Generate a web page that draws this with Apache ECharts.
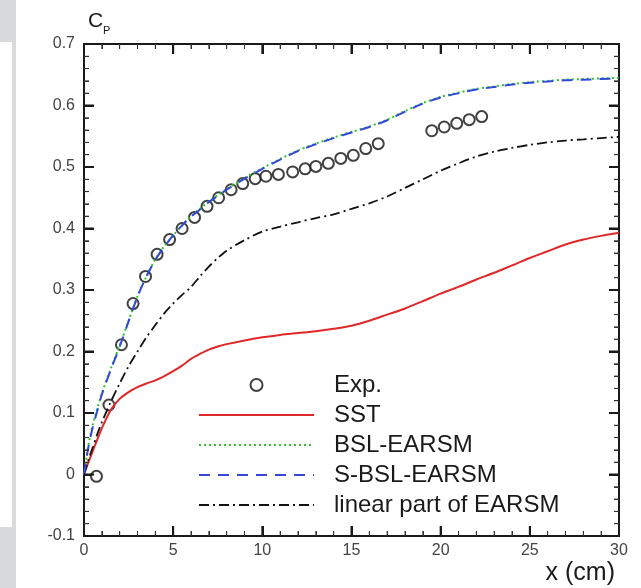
<!DOCTYPE html>
<html>
<head>
<meta charset="utf-8">
<script src="https://cdn.jsdelivr.net/npm/echarts@6/dist/echarts.min.js"></script>
<style>
html,body{margin:0;padding:0;background:#fff;}
#chart{width:641px;height:588px;background:#fff;}
</style>
</head>
<body>
<div id="chart"></div>
<script>
// ---- Data ----
var expX1 = [0.7, 1.4, 2.1, 2.75, 3.45, 4.1, 4.8, 5.5, 6.2, 6.9, 7.55, 8.25, 8.9, 9.6, 10.2, 10.9, 11.7, 12.4, 13.0, 13.7, 14.4, 15.1, 15.8, 16.5];
var expY1 = [-0.003, 0.113, 0.211, 0.278, 0.322, 0.358, 0.382, 0.400, 0.418, 0.436, 0.450, 0.463, 0.473, 0.481, 0.485, 0.488, 0.492, 0.497, 0.501, 0.506, 0.514, 0.519, 0.530, 0.538];
var expX2 = [19.5, 20.2, 20.9, 21.6, 22.3];
var expY2 = [0.559, 0.565, 0.571, 0.577, 0.582];

var xCurve = [0, 0.25, 0.5, 0.75, 1.0, 1.5, 2.0, 2.5, 3.0, 3.5, 4.0, 4.5, 5.0, 5.5, 6.0, 6.5, 7.0, 7.5, 8.0, 9.0, 10.0, 11.0, 12.0, 13.0, 14.0, 15.0, 16.0, 17.0, 18.0, 19.0, 20.0, 21.0, 22.0, 23.0, 24.0, 25.0, 26.0, 27.0, 28.0, 29.0, 30.0];
var sstY   = [0, 0.02, 0.039, 0.057, 0.075, 0.105, 0.123, 0.134, 0.142, 0.148, 0.153, 0.160, 0.168, 0.177, 0.188, 0.196, 0.203, 0.208, 0.212, 0.218, 0.223, 0.227, 0.230, 0.233, 0.237, 0.242, 0.250, 0.260, 0.270, 0.282, 0.294, 0.305, 0.317, 0.328, 0.340, 0.352, 0.363, 0.374, 0.382, 0.388, 0.393];
var bslY   = [0, 0.048, 0.082, 0.108, 0.132, 0.172, 0.210, 0.250, 0.290, 0.322, 0.350, 0.371, 0.389, 0.405, 0.420, 0.432, 0.444, 0.454, 0.464, 0.482, 0.498, 0.513, 0.527, 0.538, 0.548, 0.557, 0.566, 0.577, 0.591, 0.604, 0.614, 0.621, 0.627, 0.631, 0.635, 0.638, 0.640, 0.642, 0.643, 0.644, 0.645];
var sbslY  = [0, 0.045, 0.078, 0.104, 0.130, 0.170, 0.208, 0.249, 0.289, 0.322, 0.349, 0.370, 0.389, 0.405, 0.419, 0.431, 0.443, 0.453, 0.463, 0.481, 0.497, 0.512, 0.526, 0.537, 0.547, 0.556, 0.565, 0.576, 0.590, 0.603, 0.613, 0.620, 0.626, 0.630, 0.634, 0.637, 0.639, 0.641, 0.642, 0.643, 0.644];
var linY   = [0, 0.024, 0.045, 0.066, 0.085, 0.118, 0.148, 0.176, 0.200, 0.223, 0.243, 0.262, 0.278, 0.292, 0.305, 0.322, 0.338, 0.352, 0.364, 0.381, 0.395, 0.403, 0.410, 0.417, 0.423, 0.432, 0.441, 0.452, 0.466, 0.480, 0.494, 0.506, 0.517, 0.525, 0.531, 0.536, 0.540, 0.543, 0.545, 0.547, 0.549];

var seriesNames = ['Exp.', 'SST', 'BSL-EARSM', 'S-BSL-EARSM', 'linear part of EARSM'];
var xTicks = {min: 0, max: 30, interval: 5, minorSplit: 5};
var yTicks = {min: -0.1, max: 0.7, interval: 0.1, minorSplit: 5};

function pairs(xs, ys) { return xs.map(function (x, i) { return [x, ys[i]]; }); }
var expData = pairs(expX1, expY1).concat([[null, null]]).concat(pairs(expX2, expY2));

// tick rows for the frame ticks: [value, kind (0 = x, 1 = y), major flag]
function tickRows(t, kind) {
  var rows = [];
  var n = Math.round((t.max - t.min) / t.interval) * t.minorSplit;
  for (var i = 0; i <= n; i++) {
    var v = Math.round((t.min + i * t.interval / t.minorSplit) * 1e6) / 1e6;
    rows.push([v, kind, i % t.minorSplit === 0 ? 1 : 0]);
  }
  return rows;
}
var frameTicks = tickRows(xTicks, 0).concat(tickRows(yTicks, 1));

var FONT = '"Liberation Sans", Arial, Helvetica, sans-serif';
var chart = echarts.init(document.getElementById('chart'), null, {renderer: 'canvas'});

function axisCommon(showLabel, isX) {
  return {
    axisLine: {show: true, onZero: false, lineStyle: {color: '#1a1a1a', width: 2}},
    axisTick: {show: true, inside: true, length: 10, lineStyle: {color: '#1a1a1a', width: 2}},
    minorTick: {show: true, splitNumber: 5, length: 5, lineStyle: {color: '#333', width: 1}},
    splitLine: {show: false},
    axisLabel: showLabel ? {
      show: true, color: '#444', fontSize: 16, fontFamily: FONT,
      margin: isX ? 7 : 9,
      formatter: function (v) { return String(Math.round(v * 10) / 10); }
    } : {show: false}
  };
}

function renderTick(params, api) {
  var v = api.value(0), kind = api.value(1), major = api.value(2) === 1;
  var len = major ? 10 : 5;
  var style = {stroke: major ? '#1a1a1a' : '#333', lineWidth: major ? 2 : 1, fill: 'none'};
  var a, b, pa, pb;
  if (kind === 0) {
    a = api.coord([v, yTicks.min]);
    b = api.coord([v, yTicks.max]);
    pa = [[a[0], a[1]], [a[0], a[1] - len]];
    pb = [[b[0], b[1]], [b[0], b[1] + len]];
  } else {
    a = api.coord([xTicks.min, v]);
    b = api.coord([xTicks.max, v]);
    pa = [[a[0], a[1]], [a[0] + len, a[1]]];
    pb = [[b[0], b[1]], [b[0] - len, b[1]]];
  }
  return {
    type: 'group',
    children: [
      {type: 'polyline', shape: {points: pa}, style: style, silent: true},
      {type: 'polyline', shape: {points: pb}, style: style, silent: true}
    ]
  };
}

var lineLegendStyle = {opacity: 0};
var option = {
  animation: false,
  grid: {left: 84, right: 22, top: 44, bottom: 52, show: true, borderColor: '#1a1a1a', borderWidth: 2, backgroundColor: 'transparent'},
  xAxis: [
    Object.assign({type: 'value', position: 'bottom', min: xTicks.min, max: xTicks.max, interval: xTicks.interval}, axisCommon(true, true)),
    Object.assign({type: 'value', position: 'top', min: xTicks.min, max: xTicks.max, interval: xTicks.interval}, axisCommon(false, true))
  ],
  yAxis: [
    Object.assign({type: 'value', position: 'left', min: yTicks.min, max: yTicks.max, interval: yTicks.interval}, axisCommon(true, false)),
    Object.assign({type: 'value', position: 'right', min: yTicks.min, max: yTicks.max, interval: yTicks.interval}, axisCommon(false, false))
  ],
  legend: {
    orient: 'vertical',
    left: 193,
    top: 367,
    itemWidth: 115,
    itemHeight: 12,
    itemGap: 4,
    data: [
      {name: seriesNames[0]},
      {name: seriesNames[1], itemStyle: lineLegendStyle},
      {name: seriesNames[2], itemStyle: lineLegendStyle},
      {name: seriesNames[3], itemStyle: lineLegendStyle},
      {name: seriesNames[4], itemStyle: lineLegendStyle}
    ],
    selectedMode: false,
    textStyle: {color: '#1a1a1a', fontSize: 24, fontFamily: FONT, lineHeight: 26, padding: [0, 0, 0, 15]}
  },
  graphic: [
    {type: 'rect', left: 0, top: 0, shape: {width: 16, height: 42}, style: {fill: '#d9dadc'}, silent: true},
    {type: 'rect', left: 12, top: 42, shape: {width: 4, height: 486}, style: {fill: '#d9dadc'}, silent: true},
    {type: 'rect', left: 0, top: 527, shape: {width: 16, height: 61}, style: {fill: '#d9dadc'}, silent: true},
    {type: 'text', left: 88, top: 11, style: {text: 'C', fontSize: 21, fontFamily: FONT, fill: '#1a1a1a'}},
    {type: 'text', left: 103, top: 25, style: {text: 'P', fontSize: 11, fontFamily: FONT, fill: '#1a1a1a'}},
    {type: 'text', right: 26, top: 561, style: {text: 'x (cm)', fontSize: 25, fontFamily: FONT, fill: '#1a1a1a'}}
  ],
  series: [
    {
      name: 'Exp.', type: 'scatter', data: expData, symbol: 'emptyCircle', symbolSize: 11,
      itemStyle: {color: '#111', borderColor: '#111', borderWidth: 1.8}, z: 1
    },
    {
      name: 'SST', type: 'line', data: pairs(xCurve, sstY), symbol: 'none', smooth: 0.3,
      lineStyle: {color: '#e02828', width: 2, type: 'solid'}, itemStyle: {color: '#e02828'}, z: 3
    },
    {
      name: 'BSL-EARSM', type: 'line', data: pairs(xCurve, bslY), symbol: 'none', smooth: 0.3,
      lineStyle: {color: '#2fc42f', width: 2, type: [2, 3]}, itemStyle: {color: '#2fc42f'}, z: 3
    },
    {
      name: 'S-BSL-EARSM', type: 'line', data: pairs(xCurve, sbslY), symbol: 'none', smooth: 0.3,
      lineStyle: {color: '#3448d8', width: 2, type: [11, 8]}, itemStyle: {color: '#3448d8'}, z: 4
    },
    {
      name: 'linear part of EARSM', type: 'line', data: pairs(xCurve, linY), symbol: 'none', smooth: 0.3,
      lineStyle: {color: '#111', width: 1.8, type: [10, 4, 2, 4]}, itemStyle: {color: '#111'}, z: 3
    },
    {
      name: 'frame ticks', type: 'custom', data: frameTicks, renderItem: renderTick,
      clip: false, silent: true, legendHoverLink: false, z: 5, tooltip: {show: false}
    }
  ]
};
chart.setOption(option);
</script>
</body>
</html>
